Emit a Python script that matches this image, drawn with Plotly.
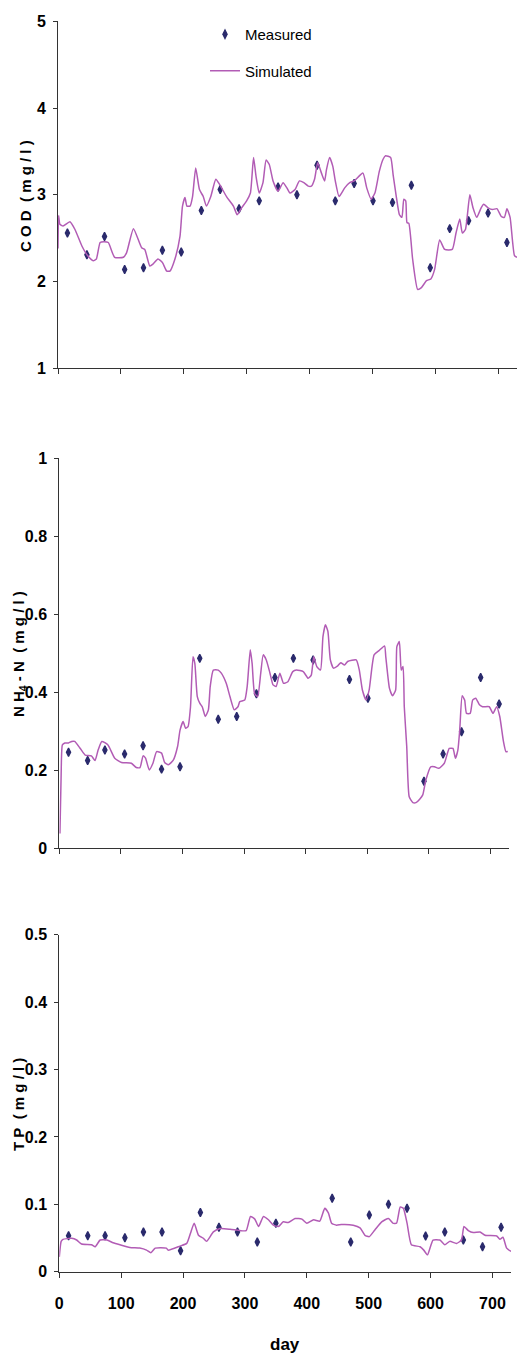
import plotly.graph_objects as go

# ---------------- data ----------------
days_measured = [15, 46, 74, 106, 136, 166, 196, 228, 258, 288, 320, 350,
                 380, 412, 441, 471, 501, 532, 562, 592, 623, 653, 684, 714]

cod_measured = [2.56, 2.31, 2.52, 2.14, 2.16, 2.36, 2.34, 2.82, 3.06, 2.84, 2.93, 3.09,
                3.00, 3.34, 2.93, 3.13, 2.93, 2.91, 3.11, 2.16, 2.61, 2.70, 2.79, 2.45]

nh4_measured = [0.246, 0.225, 0.252, 0.242, 0.263, 0.203, 0.209, 0.487, 0.331, 0.338, 0.396, 0.438,
                0.487, 0.483, None, 0.433, 0.385, None, None, 0.172, 0.242, 0.299, 0.438, 0.370]

tp_measured = [0.0535, 0.0535, 0.0535, 0.0505, 0.059, 0.059, 0.031, 0.088, 0.066, 0.059, 0.044, 0.072,
               None, None, 0.109, 0.044, 0.084, 0.100, 0.094, 0.053, 0.059, 0.047, 0.037, 0.066]

cod_sim_day = [0, 1, 3, 8, 19, 27, 38, 47, 56, 61, 67, 73, 80, 90, 104, 109, 120, 133, 138, 146,
               151, 159, 166, 173, 178, 186, 194, 198, 202, 205, 210, 214, 219, 225, 231, 236, 243,
               251, 257, 268, 279, 285, 292, 300, 306, 311, 315, 320, 326, 331, 336, 342, 350, 358,
               364, 369, 377, 384, 391, 398, 403, 408, 413, 419, 424, 427, 432, 437, 441, 447, 456,
               464, 471, 485, 491, 498, 504, 511, 517, 521, 529, 533, 538, 543, 547, 550, 553, 555,
               558, 564, 572, 578, 586, 593, 599, 607, 615, 627, 633, 639, 643, 648, 655, 660, 666,
               673, 677, 684, 691, 698, 705, 710, 714, 719, 726, 730]
cod_sim = [2.38, 2.76, 2.66, 2.64, 2.69, 2.60, 2.41, 2.30, 2.24, 2.26, 2.45, 2.46, 2.45, 2.28, 2.28,
           2.33, 2.61, 2.39, 2.37, 2.18, 2.20, 2.26, 2.22, 2.12, 2.12, 2.26, 2.52, 2.87, 2.97, 2.87,
           2.87, 2.98, 3.31, 3.06, 2.98, 2.87, 2.98, 3.18, 3.12, 2.98, 2.87, 2.77, 2.85, 2.93, 3.02,
           3.43, 3.21, 3.02, 3.14, 3.40, 3.35, 3.16, 3.04, 3.14, 3.08, 3.02, 3.06, 3.16, 3.14, 3.10,
           3.10, 3.18, 3.37, 3.25, 3.16, 3.29, 3.43, 3.33, 3.16, 2.98, 3.08, 3.14, 3.16, 3.25, 3.08,
           2.95, 3.02, 3.27, 3.41, 3.45, 3.43, 3.23, 2.98, 2.77, 2.74, 2.95, 2.93, 2.68, 2.67, 2.26,
           1.91, 1.93, 2.01, 2.03, 2.14, 2.48, 2.37, 2.37, 2.56, 2.72, 2.56, 2.60, 3.00, 2.85, 2.74,
           2.85, 2.89, 2.85, 2.83, 2.84, 2.75, 2.74, 2.84, 2.74, 2.30, 2.28]

nh4_sim_day = [1, 3, 5, 9, 15, 20, 25, 34, 42, 52, 58, 63, 69, 79, 90, 101, 117, 125, 131, 136, 140,
               146, 152, 158, 166, 171, 177, 185, 192, 196, 201, 205, 209, 213, 217, 220, 224, 228,
               232, 237, 242, 245, 250, 258, 263, 271, 277, 284, 290, 293, 301, 305, 310, 313, 317,
               322, 327, 331, 336, 342, 347, 352, 358, 364, 371, 379, 385, 396, 404, 409, 413, 418,
               424, 428, 432, 436, 440, 445, 452, 457, 463, 468, 482, 487, 492, 498, 503, 511, 519,
               528, 530, 536, 541, 546, 548, 552, 555, 558, 560, 564, 568, 574, 579, 585, 590, 595,
               603, 609, 616, 625, 633, 639, 643, 647, 650, 654, 658, 661, 667, 671, 676, 682, 687,
               698, 704, 710, 715, 721, 725, 728]
nh4_sim = [0.038, 0.19, 0.265, 0.27, 0.27, 0.274, 0.274, 0.256, 0.239, 0.237, 0.225, 0.252, 0.274,
           0.265, 0.231, 0.220, 0.218, 0.207, 0.207, 0.237, 0.231, 0.201, 0.218, 0.248, 0.244, 0.220,
           0.214, 0.226, 0.261, 0.303, 0.325, 0.308, 0.312, 0.363, 0.491, 0.474, 0.389, 0.372, 0.363,
           0.338, 0.355, 0.415, 0.457, 0.457, 0.449, 0.423, 0.389, 0.355, 0.363, 0.376, 0.380, 0.415,
           0.509, 0.474, 0.397, 0.389, 0.449, 0.496, 0.483, 0.449, 0.419, 0.415, 0.449, 0.423, 0.427,
           0.453, 0.457, 0.453, 0.436, 0.444, 0.491, 0.466, 0.457, 0.543, 0.573, 0.556, 0.483, 0.462,
           0.468, 0.476, 0.470, 0.479, 0.483, 0.457, 0.406, 0.380, 0.406, 0.496, 0.507, 0.519, 0.491,
           0.410, 0.391, 0.406, 0.517, 0.530, 0.457, 0.466, 0.363, 0.261, 0.132, 0.117, 0.117, 0.126,
           0.137, 0.175, 0.209, 0.209, 0.205, 0.218, 0.256, 0.256, 0.231, 0.252, 0.303, 0.391, 0.380,
           0.346, 0.346, 0.380, 0.385, 0.368, 0.363, 0.363, 0.346, 0.363, 0.338, 0.274, 0.248, 0.248]

tp_sim_day = [0, 3, 6, 20, 28, 36, 52, 58, 66, 77, 87, 98, 114, 130, 141, 148, 155, 173, 176, 195,
              206, 212, 218, 225, 233, 238, 249, 260, 276, 292, 302, 309, 316, 322, 330, 338, 346,
              354, 362, 370, 381, 392, 400, 411, 421, 429, 435, 440, 448, 456, 475, 486, 494, 501,
              510, 521, 532, 539, 545, 551, 556, 562, 569, 583, 589, 595, 604, 615, 623, 631, 642,
              650, 654, 661, 669, 680, 688, 707, 712, 717, 723, 730]
tp_sim = [0.022, 0.045, 0.048, 0.0495, 0.047, 0.041, 0.040, 0.037, 0.047, 0.047, 0.043, 0.040,
          0.036, 0.035, 0.032, 0.028, 0.035, 0.035, 0.032, 0.038, 0.042, 0.057, 0.072, 0.054, 0.0495,
          0.045, 0.059, 0.064, 0.063, 0.061, 0.061, 0.082, 0.078, 0.067, 0.082, 0.077, 0.069, 0.067,
          0.074, 0.073, 0.079, 0.078, 0.072, 0.077, 0.075, 0.094, 0.087, 0.072, 0.069, 0.070, 0.069,
          0.065, 0.054, 0.052, 0.062, 0.074, 0.079, 0.072, 0.072, 0.096, 0.094, 0.072, 0.040, 0.037,
          0.032, 0.025, 0.047, 0.047, 0.040, 0.045, 0.042, 0.047, 0.067, 0.061, 0.058, 0.059, 0.054,
          0.053, 0.048, 0.051, 0.035, 0.030]

x_tick_vals = [0, 100, 200, 300, 400, 500, 600, 700]

# ---------------- styles ----------------
W, H = 518, 1358
MARK_COLOR = "#2A2A6C"
LINE_COLOR = "#B25CB5"
SANS = "Liberation Sans, Arial, sans-serif"

def px_x(p):
    return p / W

def px_y(p):
    return 1 - p / H

fig = go.Figure()

panels = [
    (cod_measured, cod_sim_day, cod_sim, "x", "y"),
    (nh4_measured, nh4_sim_day, nh4_sim, "x2", "y2"),
    (tp_measured, tp_sim_day, tp_sim, "x3", "y3"),
]
for i, (meas, sd, sv, xa, ya) in enumerate(panels):
    fig.add_trace(go.Scatter(
        x=days_measured, y=meas, mode="markers", name="Measured",
        marker=dict(symbol="diamond-tall", size=6, color=MARK_COLOR,
                    line=dict(color=MARK_COLOR, width=1.3)),
        xaxis=xa, yaxis=ya, showlegend=(i == 0), legendgroup="m",
        cliponaxis=False))
    fig.add_trace(go.Scatter(
        x=sd, y=sv, mode="lines", name="Simulated",
        line=dict(color=LINE_COLOR, width=1.5, shape="spline", smoothing=0.5),
        xaxis=xa, yaxis=ya, showlegend=(i == 0), legendgroup="s"))

tickfont = dict(family=SANS, size=16, color="black", weight="bold")

def xaxis_cfg(dom, anchor, labels):
    return dict(domain=dom, anchor=anchor, range=[0, 730], tickvals=x_tick_vals,
                showticklabels=labels, ticks="outside", ticklen=5, tickcolor="#333",
                showline=True, linecolor="#333", linewidth=1, showgrid=False,
                zeroline=False, tickfont=tickfont, ticklabelstandoff=12,
                fixedrange=True, automargin=False)

def yaxis_cfg(dom, anchor, rng, dtick):
    return dict(domain=dom, anchor=anchor, range=rng, dtick=dtick, tick0=0,
                ticks="outside", ticklen=4, tickcolor="#333",
                showline=True, linecolor="#333", linewidth=1, showgrid=False,
                zeroline=False, tickfont=tickfont, ticklabelstandoff=4, automargin=False)

fig.update_layout(
    width=W, height=H,
    margin=dict(l=0, r=0, t=0, b=0),
    paper_bgcolor="white", plot_bgcolor="white",
    showlegend=True,
    legend=dict(x=px_x(205), y=px_y(18), xanchor="left", yanchor="top",
                traceorder="grouped", tracegroupgap=14,
                font=dict(family=SANS, size=15, color="black"),
                bgcolor="rgba(0,0,0,0)"),
    xaxis=xaxis_cfg([px_x(58), px_x(517)], "y", False),
    yaxis=yaxis_cfg([px_y(368.3), px_y(21.3)], "x", [1, 5], 1),
    xaxis2=xaxis_cfg([px_x(59.3), px_x(509)], "y2", False),
    yaxis2=yaxis_cfg([px_y(848.3), px_y(458.3)], "x2", [0, 1], 0.2),
    xaxis3=xaxis_cfg([px_x(59.3), px_x(511)], "y3", True),
    yaxis3=yaxis_cfg([px_y(1271.7), px_y(934.7)], "x3", [0, 0.5], 0.1),
)

title_font = dict(family=SANS, size=15, color="black", weight="bold")
for txt, xc, yc in [("C O D&nbsp; ( m g / l )", 26, 196),
                    ("N H<sub>4</sub> - N&nbsp; ( m g / l )", 19, 654),
                    ("T P&nbsp; ( m g / l )", 18, 1105)]:
    fig.add_annotation(text=txt, xref="paper", yref="paper",
                       x=px_x(xc), y=px_y(yc), xanchor="center", yanchor="middle",
                       textangle=-90, showarrow=False, font=title_font)
fig.add_annotation(text="day", xref="paper", yref="paper",
                   x=px_x(285), y=px_y(1344), xanchor="center", yanchor="middle",
                   showarrow=False,
                   font=dict(family=SANS, size=17, color="black", weight="bold"))

fig.write_html("out.html", post_script="document.body.style.margin='0';")
